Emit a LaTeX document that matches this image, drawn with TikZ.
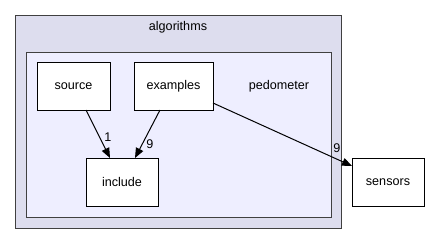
\documentclass[tikz,border=0pt]{standalone}
\usepackage{fontspec}
\setmainfont{Liberation Sans}
\usetikzlibrary{arrows.meta}
\definecolor{outerfill}{HTML}{DDDDEE}
\definecolor{innerfill}{HTML}{EEEEFF}
\definecolor{framecol}{HTML}{404040}
\begin{document}
\begin{tikzpicture}[x=1pt,y=-1pt,
  every node/.style={font=\fontsize{12.6}{14}\selectfont, inner sep=0pt},
  dirbox/.style={draw=black, fill=white, line width=1pt},
  dep/.style={draw=black, line width=1pt, -{Triangle[length=10pt,width=8pt]}},
  cnt/.style={font=\fontsize{12.6}{14}\selectfont}]
  \useasboundingbox (0,0) rectangle (429,244);
  \fill[white] (0,0) rectangle (429,244);
  % algorithms cluster
  \fill[framecol] (16.5,16.5) rectangle (342,229);
  \filldraw[fill=outerfill, draw=framecol, line width=1pt] (15,15) rectangle (341,228);
  \node (algolabel) at (178,27) {algorithms};
  % pedometer cluster
  \fill[framecol] (27,53) rectangle (332,218);
  \filldraw[fill=innerfill, draw=framecol, line width=1pt] (26,52) rectangle (331,217);
  \node (pedolabel) at (279,86) {pedometer};
  % directories
  \path[dirbox] (37,62) rectangle (110,110);
  \node (source) at (73.5,86) {source};
  \path[dirbox] (134,62) rectangle (213,110);
  \node (examples) at (173.5,86) {examples};
  \path[dirbox] (86,158) rectangle (158,206);
  \node (include) at (122,182) {include};
  \path[dirbox] (352,158) rectangle (424,206);
  \node (sensors) at (388,182) {sensors};
  % anchor points on box borders
  \coordinate (srcout) at (86,110);
  \coordinate (incinA) at (110,158);
  \coordinate (exout) at (160,110);
  \coordinate (incinB) at (135,158);
  \coordinate (exside) at (213,103);
  \coordinate (senin) at (352,166);
  % dependencies
  \draw[dep] (srcout) -- (incinA);
  \node[cnt] (c1) at (108,137) {1};
  \draw[dep] (exout) -- (incinB);
  \node[cnt] (c2) at (150,144) {9};
  \draw[dep] (exside) -- (senin);
  \node[cnt] (c3) at (337,148) {9};
\end{tikzpicture}
\end{document}
